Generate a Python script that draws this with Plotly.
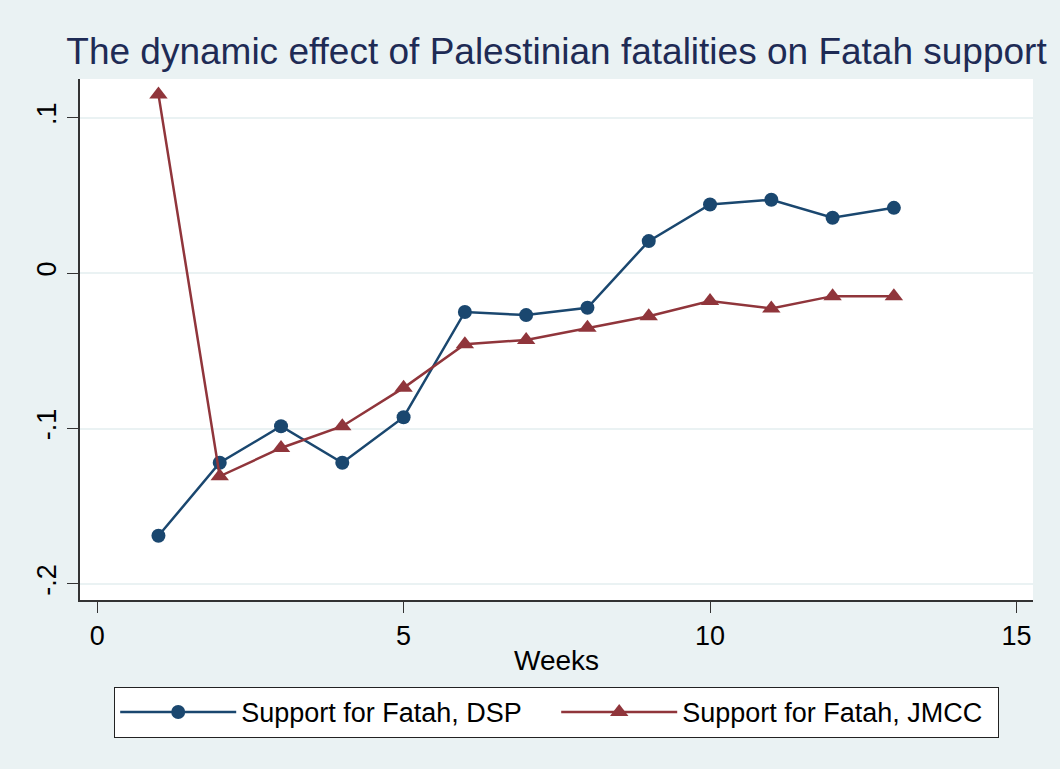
import plotly.graph_objects as go

weeks = list(range(1, 14))
dsp = [-0.169, -0.122, -0.0985, -0.122, -0.0927, -0.025, -0.027, -0.0223,
       0.0206, 0.0442, 0.0472, 0.0356, 0.0420]
jmcc = [0.115, -0.1307, -0.1125, -0.0985, -0.0738, -0.0457, -0.0430, -0.0352,
        -0.0277, -0.0180, -0.0227, -0.0148, -0.0148]
x_ticks = [0, 5, 10, 15]
y_ticks = [-0.2, -0.1, 0, 0.1]
y_labels = ["-.2", "-.1", "0", ".1"]

navy = "#1A476F"
maroon = "#90353B"
bg = "#EAF2F3"
font = "Liberation Sans, Arial, sans-serif"

fig = go.Figure()
fig.add_trace(go.Scatter(x=weeks, y=dsp, mode="lines+markers",
                         name="Support for Fatah, DSP",
                         line=dict(color=navy, width=2.5),
                         marker=dict(symbol="circle", size=14, color=navy)))
fig.add_trace(go.Scatter(x=weeks, y=jmcc, mode="lines+markers",
                         name="Support for Fatah, JMCC",
                         line=dict(color=maroon, width=2.5),
                         marker=dict(symbol="triangle-up", size=16, color=maroon)))

fig.update_layout(
    width=1060, height=769,
    paper_bgcolor=bg, plot_bgcolor="white",
    margin=dict(l=80, r=27, t=79, b=169, autoexpand=False),
    font=dict(family=font, color="black", size=27),
    title=dict(text="The dynamic effect of Palestinian fatalities on Fatah support",
               xref="paper", x=0.5, xanchor="center", y=0.933, yanchor="middle",
               font=dict(size=37, color="#1E2B55", family=font)),
    showlegend=True,
    legend=dict(orientation="h", x=0.5, xanchor="center",
                yref="container", y=0.107, yanchor="top",
                bgcolor="white", bordercolor="#222222", borderwidth=1.2,
                font=dict(size=27, family=font), itemwidth=116, entrywidth=310,
                tracegroupgap=0),
)
fig.update_xaxes(range=[-0.28, 15.27], tickvals=x_ticks, ticktext=[str(v) for v in x_ticks],
                 showgrid=False, zeroline=False, showline=True, linecolor="#333333",
                 linewidth=1.5, ticks="outside", ticklen=11, tickcolor="#333333",
                 automargin=False,
                 tickfont=dict(size=27), title=dict(text="Weeks", font=dict(size=28), standoff=0))
fig.update_yaxes(range=[-0.2103, 0.1249], tickvals=y_ticks, ticktext=y_labels,
                 showgrid=True, gridcolor=bg, gridwidth=2, zeroline=False,
                 showline=True, linecolor="#333333", linewidth=1.5,
                 ticks="outside", ticklen=11, tickcolor="#333333", automargin=False,
                 tickangle=-90, tickfont=dict(size=27), ticklabelstandoff=0)

fig.write_html("out.html", config={"displayModeBar": False},
               post_script="document.body.style.margin='0';document.body.style.background='#EAF2F3';")
